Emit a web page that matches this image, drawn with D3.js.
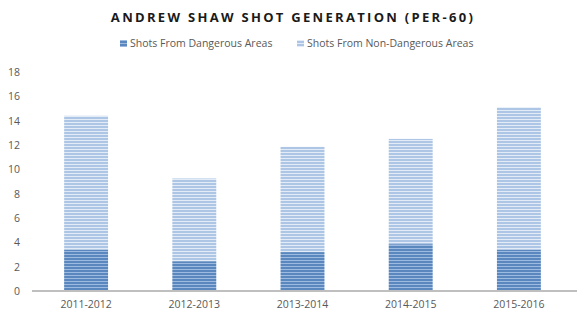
<!DOCTYPE html>
<html>
<head>
<meta charset="utf-8">
<script src="https://cdn.jsdelivr.net/npm/d3@7/dist/d3.min.js"></script>
<style>
  html, body { margin: 0; padding: 0; background: #fff; }
  svg { display: block; font-family: "Open Sans", "Liberation Sans", sans-serif; }
</style>
</head>
<body>
<svg id="chart" width="587" height="322"></svg>
<script>
// Season labels and per-60 shot rates
const seasons = ["2011-2012", "2012-2013", "2013-2014", "2014-2015", "2015-2016"];
const dangerous = [3.4, 2.45, 3.2, 3.85, 3.4];
const totalShots = [14.4, 9.25, 11.85, 12.5, 15.1];
const nonDangerous = totalShots.map((t, i) => +(t - dangerous[i]).toFixed(2));
const yTicks = [0, 2, 4, 6, 8, 10, 12, 14, 16, 18];
const seriesNames = ["Shots From Dangerous Areas", "Shots From Non-Dangerous Areas"];

const svg = d3.select("#chart");
const W = 587, H = 322;
const margin = { left: 32, right: 14, top: 72, bottom: 31 };

// Striped fills for the two series
const defs = svg.append("defs");
function stripes(id, a, b) {
  const p = defs.append("pattern").attr("id", id)
    .attr("patternUnits", "userSpaceOnUse").attr("width", 4).attr("height", 3);
  p.append("rect").attr("width", 4).attr("height", 3).attr("fill", b);
  p.append("rect").attr("width", 4).attr("height", 2).attr("fill", a);
}
stripes("pDanger", "#5a87bd", "#9dbbe0");
stripes("pNon", "#adc6e6", "#e2ebf6");

const x = d3.scaleBand().domain(seasons)
  .range([margin.left, W - margin.right]).paddingInner(0.594).paddingOuter(0.297);
const y = d3.scaleLinear().domain([0, 18]).range([H - margin.bottom, margin.top]);

// Title
svg.append("text").attr("x", 293).attr("y", 22).attr("text-anchor", "middle")
  .attr("font-size", 13).attr("font-weight", "bold").attr("letter-spacing", 2.3)
  .attr("fill", "#1a1a1a").text("ANDREW  SHAW SHOT GENERATION (PER-60)");

// Legend
const legend = [
  { name: seriesNames[0], fill: "url(#pDanger)", x: 120 },
  { name: seriesNames[1], fill: "url(#pNon)", x: 297 }
];
const lg = svg.append("g").selectAll("g").data(legend).join("g")
  .attr("transform", d => `translate(${d.x},47)`);
lg.append("rect").attr("x", 0).attr("y", -7).attr("width", 7).attr("height", 7).attr("fill", d => d.fill);
lg.append("text").attr("x", 10).attr("y", 0).attr("font-size", 10.5).attr("fill", "#595959").text(d => d.name);

// Y axis labels
const yAxis = d3.axisLeft(y).tickValues(yTicks).tickSize(0).tickPadding(0).tickFormat(d3.format("d"));
const ya = svg.append("g").attr("transform", "translate(20,0)").call(yAxis);
ya.select(".domain").remove();
ya.selectAll("text").attr("font-size", 10.5).attr("fill", "#595959")
  .attr("font-family", "'Open Sans', 'Liberation Sans', sans-serif");

// Stacked bars
const stack = d3.stack().keys(["d", "n"])(seasons.map((s, i) => ({ s, d: dangerous[i], n: nonDangerous[i] })));
const fills = ["url(#pDanger)", "url(#pNon)"];
svg.append("g").selectAll("g").data(stack).join("g")
  .attr("fill", (d, i) => fills[i])
  .selectAll("rect").data(d => d).join("rect")
  .attr("x", d => x(d.data.s))
  .attr("width", x.bandwidth())
  .attr("y", d => y(d[1]))
  .attr("height", d => y(d[0]) - y(d[1]));

// X axis
const xAxis = d3.axisBottom(x).tickSize(0).tickPadding(10);
const xa = svg.append("g").attr("transform", `translate(0,${y(0)})`).call(xAxis);
xa.select(".domain").attr("stroke", "#bfbfbf").attr("stroke-width", 2)
  .attr("d", `M${margin.left},0H${W - margin.right + 4}`);
xa.selectAll("text").attr("font-size", 10.5).attr("fill", "#595959")
  .attr("font-family", "'Open Sans', 'Liberation Sans', sans-serif");
</script>
</body>
</html>
